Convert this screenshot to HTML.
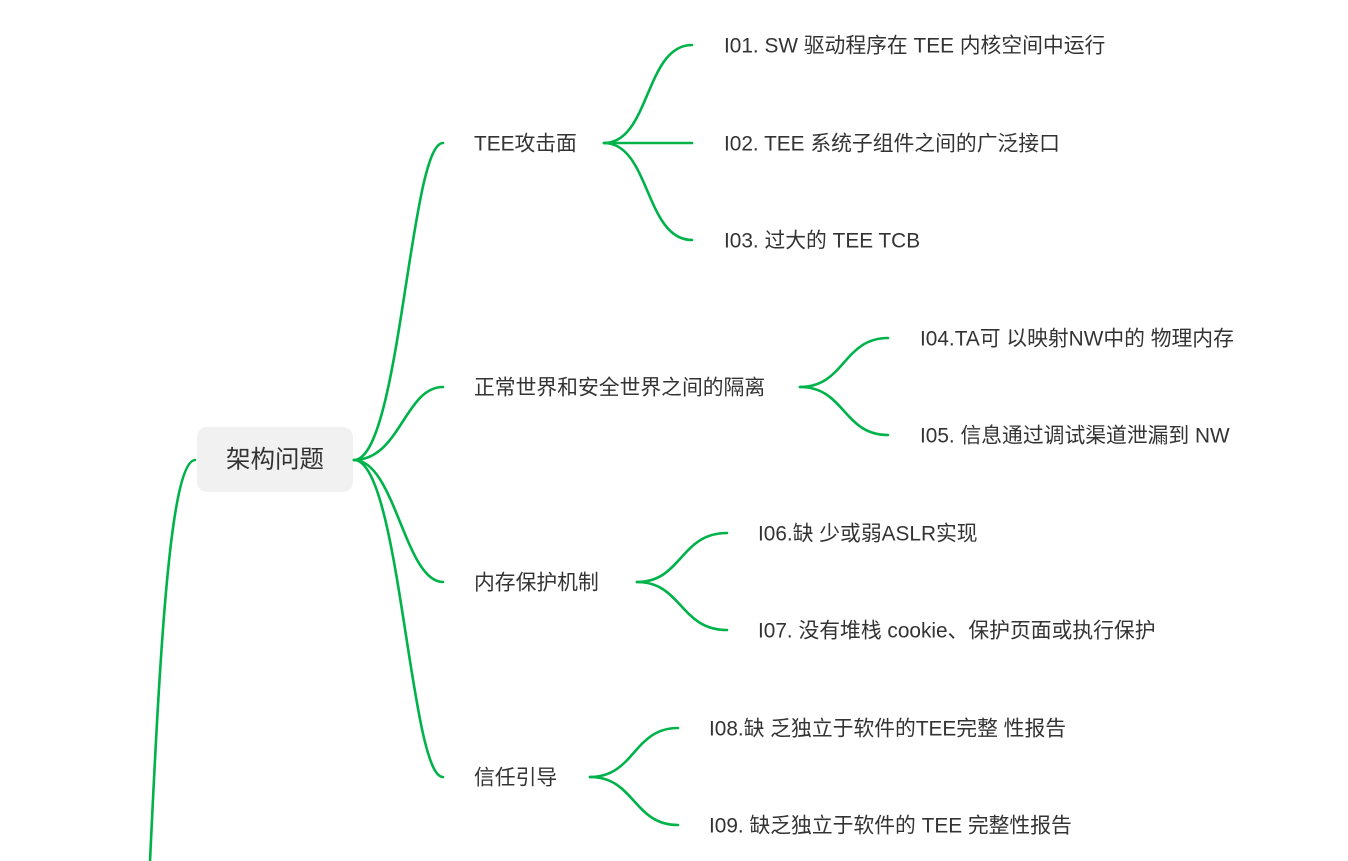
<!DOCTYPE html>
<html><head><meta charset="utf-8"><style>
html,body{margin:0;padding:0;background:#fff;}
svg{display:block;}
text{font-family:"Liberation Sans","Noto Sans CJK SC",sans-serif;fill:#333;font-size:20.8px;dominant-baseline:central;}
path{fill:none;stroke:#00b24a;stroke-width:2.6;stroke-linecap:round;}
</style></head><body>
<svg width="1348" height="861" viewBox="0 0 1348 861" xmlns="http://www.w3.org/2000/svg">
<path d="M195 460 C170 462 160 650 150 861"/>
<rect x="197" y="427" width="156" height="65" rx="10" fill="#f1f1f1"/>
<text x="275" y="460" text-anchor="middle" style="font-size:24.5px">架构问题</text>

<path d="M354 460 C400 460 410 143 443 143"/>
<path d="M354 460 C400 460 405 387 443 387"/>
<path d="M354 460 C395 460 405 582 443 582"/>
<path d="M354 460 C400 460 410 777 443 777"/>

<text x="474" y="144">TEE攻击面</text>
<text x="474" y="388">正常世界和安全世界之间的隔离</text>
<text x="474" y="583">内存保护机制</text>
<text x="474" y="778">信任引导</text>

<path d="M604 143 C650 143 645 45 692 45"/>
<path d="M604 143 L692 143"/>
<path d="M604 143 C650 143 645 240 692 240"/>
<text x="724" y="46">I01. SW 驱动程序在 TEE 内核空间中运行</text>
<text x="724" y="144">I02. TEE 系统子组件之间的广泛接口</text>
<text x="724" y="241">I03. 过大的 TEE TCB</text>

<path d="M800 387 C845 387 843 338 888 338"/>
<path d="M800 387 C845 387 843 435 888 435"/>
<text x="920" y="339">I04.TA可 以映射NW中的 物理内存</text>
<text x="920" y="436">I05. 信息通过调试渠道泄漏到 NW</text>

<path d="M637 582 C682 582 680 533 727 533"/>
<path d="M637 582 C682 582 680 630 727 630"/>
<text x="758" y="534">I06.缺 少或弱ASLR实现</text>
<text x="758" y="631">I07. 没有堆栈 cookie、保护页面或执行保护</text>

<path d="M590 777 C635 777 633 728 678 728"/>
<path d="M590 777 C635 777 633 825 678 825"/>
<text x="709" y="729">I08.缺 乏独立于软件的TEE完整 性报告</text>
<text x="709" y="826">I09. 缺乏独立于软件的 TEE 完整性报告</text>
</svg>
</body></html>
